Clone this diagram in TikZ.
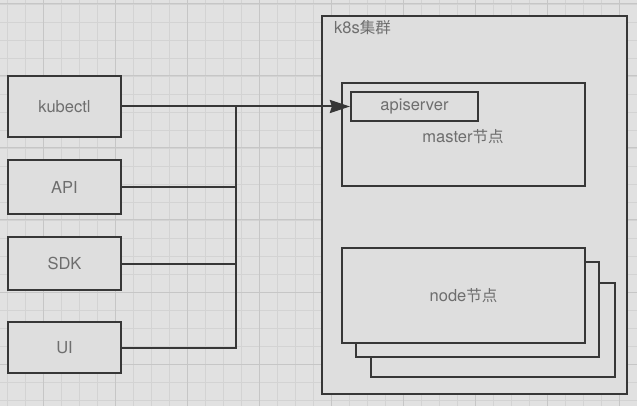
\documentclass[tikz,border=0pt]{standalone}
\usepackage{fontspec}
\setmainfont{TeX Gyre Heros}
\newfontfamily\cjk{Noto Sans CJK SC}
\newcommand\zh[1]{{\cjk\fontsize{15.5}{18}\selectfont #1}}
\usetikzlibrary{arrows.meta}
\definecolor{bgc}{RGB}{225,225,225}
\definecolor{gridminor}{RGB}{211,211,211}
\definecolor{gridmajor}{RGB}{198,198,198}
\definecolor{fillc}{RGB}{222,222,222}
\definecolor{linec}{RGB}{55,55,55}
\definecolor{textc}{RGB}{110,110,110}
\begin{document}
\begin{tikzpicture}[x=1pt,y=-1pt,
  box/.style={rectangle, draw=linec, line width=2.2pt, fill=fillc, inner sep=0pt, text=textc, font=\fontsize{16.5}{18}\selectfont},
  wire/.style={draw=linec, line width=2pt, line join=miter},
  minorline/.style={draw=gridminor, line width=0.8pt},
  majorline/.style={draw=gridmajor, line width=1pt},
  lbl/.style={text=textc, font=\fontsize{16.5}{18}\selectfont, inner sep=0pt}]
\useasboundingbox (0,0) rectangle (637,406);
\fill[bgc] (0,0) rectangle (637,406);
% grid
\foreach \i in {0,...,35} \draw[minorline] ({7+18*\i},0) -- ({7+18*\i},406);
\foreach \i in {0,...,22} \draw[minorline] (0,{4+18*\i}) -- (637,{4+18*\i});
\foreach \i in {0,...,8} \draw[majorline] ({43+72*\i},0) -- ({43+72*\i},406);
\foreach \i in {0,...,5} \draw[majorline] (0,{4+72*\i}) -- (637,{4+72*\i});
% cluster
\node[box, minimum width=305pt, minimum height=378pt] (k8s) at (474.5,205) {};
\node[lbl, anchor=west] (k8slabel) at (334,28) {k8s\zh{集群}};
% master
\node[box, minimum width=243pt, minimum height=103pt] (master) at (463.5,134.5) {};
\node[lbl] (masterlabel) at (463,137) {master\zh{节点}};
\node[box, minimum width=127pt, minimum height=29pt] (apiserver) at (414.5,106.5) {apiserver};
% node stack
\node[box, minimum width=244pt, minimum height=94pt] (node3) at (493,330) {};
\node[box, minimum width=243pt, minimum height=95pt] (node2) at (477.5,309.5) {};
\node[box, minimum width=243pt, minimum height=95pt] (node1) at (463.5,295.5) {node\zh{节点}};
% clients
\node[box, minimum width=113pt, minimum height=61pt] (kubectl) at (64.5,106.5) {kubectl};
\node[box, minimum width=113pt, minimum height=54pt] (api) at (64.5,187) {API};
\node[box, minimum width=113pt, minimum height=53pt] (sdk) at (64.5,263.5) {SDK};
\node[box, minimum width=113pt, minimum height=51pt] (ui) at (64.5,347.5) {UI};
% bus
\coordinate (bustop) at (236,106.5);
\coordinate (busbot) at (236,347.5);
\draw[wire] (ui.east) -- (busbot) -- (bustop);
\draw[wire] (api.east) -- (api.east -| bustop);
\draw[wire] (sdk.east) -- (sdk.east -| bustop);
\draw[wire, -{Stealth[length=20pt,width=13pt,inset=2pt]}] (kubectl.east) -- (apiserver.west);
\end{tikzpicture}
\end{document}
